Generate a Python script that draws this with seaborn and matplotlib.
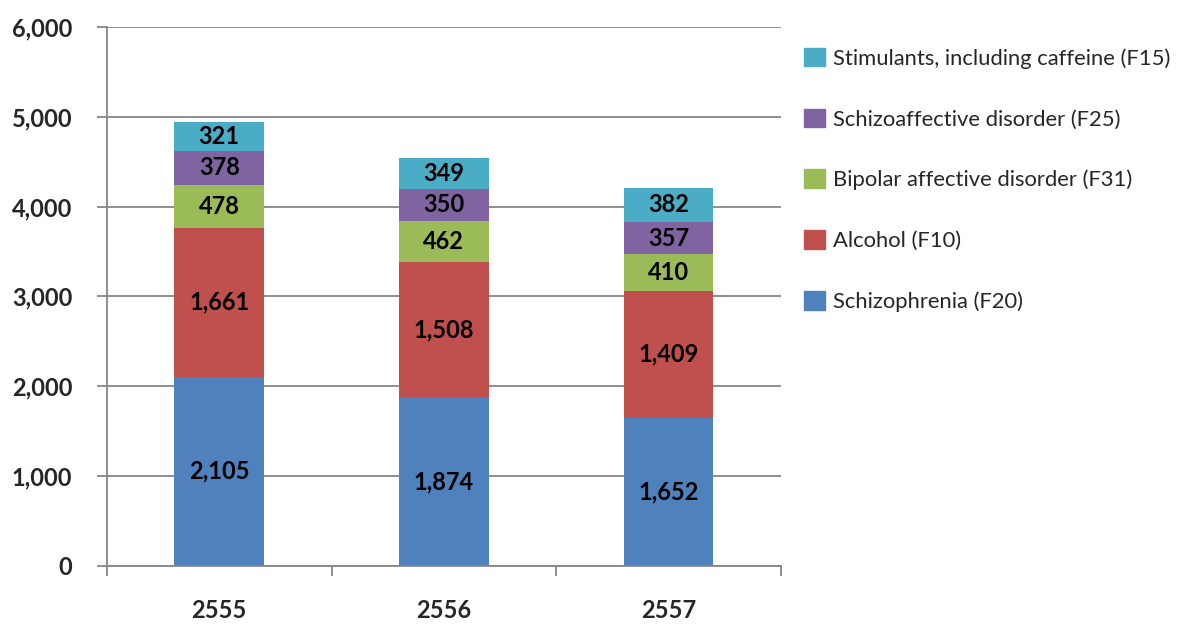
import pandas as pd
import matplotlib.pyplot as plt
import matplotlib.patches as mpatches
import seaborn as sns

# ----------------------------------------
# Data
# ----------------------------------------
years = ["2555", "2556", "2557"]

schizophrenia = [2105, 1874, 1652]
alcohol = [1661, 1508, 1409]
bipolar = [478, 462, 410]
schizoaffective = [378, 350, 357]
stimulants = [321, 349, 382]

series_names = [
    "Schizophrenia (F20)",
    "Alcohol (F10)",
    "Bipolar affective disorder (F31)",
    "Schizoaffective disorder (F25)",
    "Stimulants, including caffeine (F15)",
]
series_values = [schizophrenia, alcohol, bipolar, schizoaffective, stimulants]
colors = ["#4F81BD", "#C0504D", "#9BBB59", "#8064A2", "#4BACC6"]

# ----------------------------------------
# Style
# ----------------------------------------
sns.set_style("white")
plt.rcParams["font.family"] = ["Lato", "DejaVu Sans"]

fig = plt.figure(figsize=(11.78, 6.24), dpi=100)
ax = fig.add_axes([0.0908, 0.093, 0.572, 0.864])

grid_color = "#868686"

# ----------------------------------------
# Stacked bars
# ----------------------------------------
bottoms = [0, 0, 0]
for name, vals, col in zip(series_names, series_values, colors):
    df = pd.DataFrame({"Year": years, "Value": vals})
    sns.barplot(
        data=df, x="Year", y="Value", bottom=bottoms,
        color=col, saturation=1, width=0.4, ax=ax, linewidth=0
    )
    for i, v in enumerate(vals):
        ax.text(
            i, bottoms[i] + v / 2, f"{v:,}",
            ha="center", va="center",
            fontsize=17, fontweight="bold", color="black"
        )
    bottoms = [b + v for b, v in zip(bottoms, vals)]

# ----------------------------------------
# Axes
# ----------------------------------------
ax.set_ylim(0, 6000)
ax.set_xlim(-0.5, 2.5)
ax.set_yticks(range(0, 6001, 1000))
ax.set_yticklabels([f"{t:,}" for t in range(0, 6001, 1000)])
ax.yaxis.grid(True, color=grid_color, linewidth=1.3)
ax.set_axisbelow(True)

ax.set_xlabel("")
ax.set_ylabel("")

for s in ["top", "right"]:
    ax.spines[s].set_visible(False)
ax.spines["left"].set_color(grid_color)
ax.spines["bottom"].set_color(grid_color)
ax.spines["left"].set_linewidth(1.3)
ax.spines["bottom"].set_linewidth(1.3)

ax.tick_params(axis="y", length=7, width=1.3, color=grid_color,
               pad=18, labelsize=17, left=True)
ax.tick_params(axis="x", which="major", length=0, pad=24, labelsize=17)
ax.set_xticks([-0.5, 0.5, 1.5, 2.5], minor=True)
ax.tick_params(axis="x", which="minor", length=7, width=1.3,
               color=grid_color, bottom=True)

for lbl in ax.get_yticklabels() + ax.get_xticklabels():
    lbl.set_fontweight("bold")

# ----------------------------------------
# Legend
# ----------------------------------------
handles = [mpatches.Patch(color=c, label=n) for n, c in zip(series_names, colors)]
fig.legend(
    handles=handles[::-1],
    loc="upper left",
    bbox_to_anchor=(0.666, 0.955),
    frameon=False,
    fontsize=15.8,
    handlelength=0.93,
    handleheight=0.93,
    handletextpad=0.37,
    labelspacing=1.82,
)

plt.savefig("out.png", dpi=100)
